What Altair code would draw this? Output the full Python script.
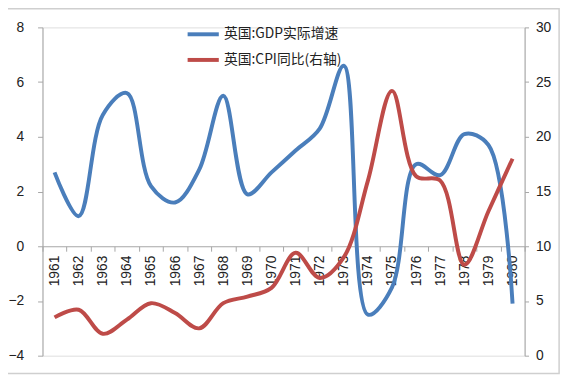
import altair as alt
import pandas as pd

years = [str(y) for y in range(1961, 1981)]
gdp = [2.7, 1.1, 4.8, 5.6, 2.2, 1.6, 2.8, 5.5, 1.9, 2.7, 3.5, 4.3, 6.6, -2.5, -1.5, 3.0, 2.6, 4.1, 3.7, -2.1]
cpi = [3.5, 4.2, 2.0, 3.3, 4.8, 3.9, 2.5, 4.8, 5.4, 6.2, 9.4, 7.1, 9.0, 16.0, 24.2, 16.4, 16.0, 8.3, 13.2, 18.0]
gdp_label = "英国:GDP实际增速"
cpi_label = "英国:CPI同比(右轴)"

df = pd.DataFrame(
    {"year": years * 2,
     "value": gdp + cpi,
     "series": [gdp_label] * len(years) + [cpi_label] * len(years)}
)

FONT = "Liberation Sans"
color = alt.Color(
    "series:N",
    scale=alt.Scale(domain=[gdp_label, cpi_label], range=["#4a7ebb", "#be4b48"]),
    legend=alt.Legend(
        title=None, orient="none", legendX=145, legendY=-11,
        symbolType="stroke", symbolStrokeWidth=4, symbolSize=1000,
        labelFont="Noto Sans CJK SC", labelFontSize=14, labelColor="#222",
        rowPadding=0, labelOffset=3, symbolOffset=0,
    ),
)

x = alt.X(
    "year:N", sort=years, title=None,
    scale=alt.Scale(type="band", paddingInner=0, paddingOuter=0),
    axis=alt.Axis(
        orient="bottom", offset=-111, labelAngle=-90, tickBand="extent",
        tickSize=5, domainColor="#a6a6a6", tickColor="#a6a6a6",
        labelFont=FONT, labelFontSize=14, labelColor="#222", labelPadding=4,
        grid=False,
    ),
)

base = alt.Chart(df).encode(x=x, color=color)

left = base.transform_filter(alt.datum.series == gdp_label).mark_line(
    strokeWidth=4, interpolate="catmull-rom"
).encode(
    y=alt.Y(
        "value:Q", title=None,
        scale=alt.Scale(domain=[-4, 8], nice=False),
        axis=alt.Axis(
            orient="left", values=[-4, -2, 0, 2, 4, 6, 8], grid=False,
            tickSize=5, labelPadding=14, domainColor="#a6a6a6", tickColor="#a6a6a6",
            labelFont=FONT, labelFontSize=14, labelColor="#222",
        ),
    )
)

right = base.transform_filter(alt.datum.series == cpi_label).mark_line(
    strokeWidth=4, interpolate="catmull-rom"
).encode(
    y=alt.Y(
        "value:Q", title=None,
        scale=alt.Scale(domain=[0, 30], nice=False),
        axis=alt.Axis(
            orient="right", values=[0, 5, 10, 15, 20, 25, 30], grid=False,
            tickSize=4, labelPadding=7, domainColor="#a6a6a6", tickColor="#a6a6a6",
            labelFont=FONT, labelFontSize=14, labelColor="#222",
        ),
    )
)

border = alt.Chart(alt.Data(values=[{}])).mark_rect(
    fill="transparent", stroke="#cfcfcf", strokeWidth=1.5
).encode(
    x=alt.value(-38), x2=alt.value(524), y=alt.value(-19), y2=alt.value(351)
)

chart = alt.layer(border, left, right).resolve_scale(y="independent").properties(
    width=489, height=333,
    autosize=alt.AutoSizeParams(type="none"),
    padding={"left": 35, "top": 17, "right": 43, "bottom": 23},
).configure_view(stroke="transparent").configure(background="white")

chart.save("out.html", embed_options={"renderer": "svg", "actions": False})
